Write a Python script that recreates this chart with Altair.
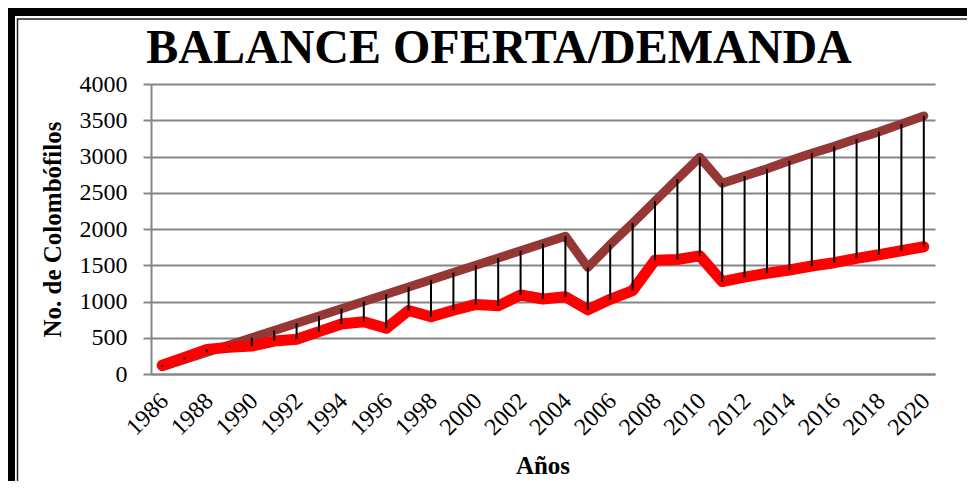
import altair as alt
import pandas as pd

# ---- data ----
years = list(range(1986, 2021))
oferta = [100, 200, 300, 400, 500, 600, 700, 800, 900, 1000,
          1100, 1200, 1300, 1400, 1500, 1600, 1700, 1800, 1900, 1470,
          1785, 2080, 2385, 2690, 2990, 2630, 2730, 2830, 2940, 3045,
          3140, 3245, 3340, 3450, 3560]
demanda = [120, 230, 340, 370, 385, 455, 480, 585, 690, 720,
           630, 875, 790, 880, 960, 940, 1090, 1035, 1065, 885,
           1030, 1150, 1570, 1580, 1630, 1275, 1335, 1390, 1435, 1490,
           1535, 1595, 1645, 1700, 1755]
x_tick_years = list(range(1986, 2021, 2))
y_ticks = [0, 500, 1000, 1500, 2000, 2500, 3000, 3500, 4000]
title_text = "BALANCE OFERTA/DEMANDA"
y_title = "No. de Colombófilos"
x_title = "Años"

df = pd.DataFrame({"year": years, "oferta": oferta, "demanda": demanda})
FONT = "Liberation Serif"

x_enc = alt.X("year:O",
              scale=alt.Scale(type="point", padding=0.5),
              axis=alt.Axis(values=x_tick_years, labelAngle=-45, labelAlign="right",
                            labelBaseline="middle", labelPadding=23, labelOffset=2,
                            ticks=False, domain=True, domainColor="#868686",
                            domainWidth=2, grid=False, labelFont=FONT,
                            labelFontSize=24, labelColor="black", title=""))

y_scale = alt.Scale(domain=[0, 4000], nice=False)
y_axis = alt.Axis(values=y_ticks, format="d", grid=True, gridColor="#868686",
                  gridWidth=2, domain=True, domainColor="#868686", domainWidth=2,
                  ticks=True, tickSize=8, tickColor="#868686", tickWidth=2,
                  labelPadding=16, labelFont=FONT, labelFontSize=24,
                  labelColor="black", title=y_title, titleFont=FONT,
                  titleFontSize=25, titleFontWeight="bold", titleColor="black",
                  titlePadding=14)

base = alt.Chart(df)

line_of = base.mark_line(color="#953735", strokeWidth=9, strokeCap="round",
                         strokeJoin="round").encode(
    x=x_enc, y=alt.Y("oferta:Q", scale=y_scale, axis=y_axis))
line_de = base.mark_line(color="#FF0000", strokeWidth=11, strokeCap="round",
                         strokeJoin="round").encode(
    x=x_enc, y=alt.Y("demanda:Q", scale=y_scale, axis=y_axis))
rules = base.mark_rule(color="black", strokeWidth=2).encode(
    x=x_enc, y=alt.Y("oferta:Q", scale=y_scale, axis=y_axis), y2="demanda:Q")

deco = alt.Chart(pd.DataFrame({"t": [title_text], "xt": [x_title]}))
title = deco.mark_text(font=FONT, fontSize=48, fontWeight="bold", color="black",
                       align="center", baseline="alphabetic").encode(
    text="t:N", x=alt.value(348), y=alt.value(-21))
xtitle = deco.mark_text(font=FONT, fontSize=25, fontWeight="bold", color="black",
                        align="center", baseline="alphabetic").encode(
    text="xt:N", x=alt.value(392), y=alt.value(390))
outer = deco.mark_rect(fillOpacity=0, stroke="black", strokeWidth=8).encode(
    x=alt.value(-140), x2=alt.value(860), y=alt.value(-72), y2=alt.value(406))
inner = deco.mark_rect(fillOpacity=0, stroke="#222222", strokeWidth=1.5).encode(
    x=alt.value(-133.5), x2=alt.value(860), y=alt.value(-65), y2=alt.value(399.5))

chart = alt.layer(line_of, line_de, rules, title, xtitle, outer, inner).properties(
    width=784, height=290,
    autosize=alt.AutoSizeParams(type="none"),
    padding={"left": 143, "top": 76, "right": 32, "bottom": 107},
    background="white",
).configure_view(strokeWidth=0)

chart.save("out.html", embed_options={"renderer": "svg", "actions": False})
